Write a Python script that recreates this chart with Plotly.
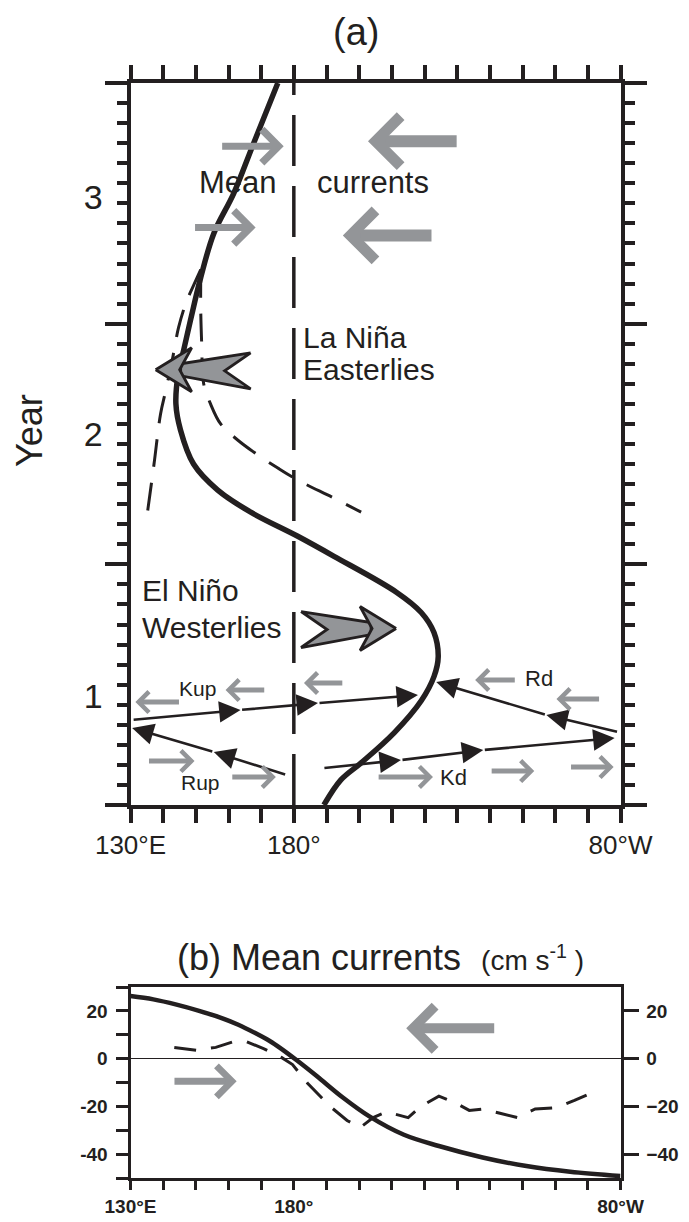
import plotly.graph_objects as go

# page has an 8px body margin: figure is sized so the page is exactly 689x1222
PAGE_OFF = 8
W, H = 689 - PAGE_OFF, 1222 - PAGE_OFF
FONT = "Liberation Sans, Arial, Helvetica, sans-serif"
INK = "#231f20"
GRAY = "#939598"

# ---------------- data: panel (a) ----------------
lon_ticks = [130, 140, 150, 160, 170, 180, 190, 200, 210, 220, 230, 240, 250, 260, 270, 280]
lon_ticklabels = ["130°E", "", "", "", "", "180°", "", "", "", "", "", "", "", "", "", "80°W"]
year_label_pos = [5.43, 18.5, 30.3]          # months
year_labels = ["1", "2", "3"]
month_major = [0, 12, 24, 36]

# thick solid path (lon, month)
solid_lon = [189.2, 194.4, 200.6, 210.7, 219.0, 222.9, 224.2, 222.9, 219.0, 211.5, 192.3, 181.2,
             166.8, 156.7, 149.3, 145.3, 143.9, 144.6, 146.3, 148.4, 151.5, 155.5, 161.6, 167.7, 175.1]
solid_month = [0.0, 1.25, 2.1, 3.6, 5.2, 6.4, 7.4, 8.6, 9.6, 10.6, 12.4, 13.4,
               14.6, 15.7, 17.0, 18.7, 20.0, 21.5, 22.7, 24.2, 26.3, 28.5, 30.5, 33.0, 36.0]
# dashed branches
dash1_lon = [151.5, 149.0, 146.9, 144.7, 142.8, 140.7, 139.2, 137.2, 135.2]
dash1_month = [26.7, 25.8, 25.0, 23.8, 22.2, 20.6, 19.5, 17.0, 14.6]
dash2_lon = [151.5, 151.5, 151.8, 152.4, 154.5, 157.6, 162.8, 167.7, 175.1, 181.2, 192.3, 200.6]
dash2_month = [26.7, 24.7, 23.0, 21.0, 20.0, 19.0, 18.2, 17.6, 16.8, 16.2, 15.3, 14.6]
dateline_lon = [180, 180]
dateline_month = [0, 36]

# Kelvin / Rossby wave paths (arrowheads at every point after the first)
kup_lon = [130.5, 163.7, 187.4, 218.0]
kup_month = [4.24, 4.74, 5.08, 5.48]
rup_lon = [177.8, 155.5, 130.5]
rup_month = [1.50, 2.64, 3.84]
kd_lon = [188.9, 212.8, 238.0, 278.2]
kd_month = [1.84, 2.24, 2.74, 3.34]
rd_lon = [279.4, 257.3, 223.6]
rd_month = [3.64, 4.49, 6.13]

# mean-current arrows at top (tail lon, tip lon, month)
mean_east_tail = [157.6, 149.3]
mean_east_tip = [176.9, 168.3]
mean_east_month = [32.85, 28.8]
mean_west_tail = [230.3, 222.6]
mean_west_tip = [202.7, 195.0]
mean_west_month = [33.1, 28.4]
# small current arrows near the wave paths
small_tail = [145.3, 171.4, 135.2, 160.7, 195.3, 248.1, 273.9, 205.5, 240.1, 264.4]
small_tip = [131.5, 159.1, 149.6, 174.5, 183.1, 235.5, 260.4, 222.6, 253.6, 277.9]
small_month = [5.13, 5.73, 2.19, 1.40, 6.08, 6.23, 5.28, 1.40, 1.69, 1.89]

# wind-stress arrows: tip lon, tip month, direction (+1 east, -1 west)
wind_tip_lon = [137.7, 211.3]
wind_tip_month = [21.7, 8.8]
wind_dir = [-1, 1]

# ---------------- data: panel (b) ----------------
b_solid_lon = [130, 137, 144.1, 151, 157.5, 163, 168.2, 172.5, 176.2, 180.9, 187, 195, 203,
               213.7, 224.4, 237.8, 251.2, 264.6, 280]
b_solid_val = [26.2, 24.8, 22.6, 20.0, 17.2, 14.2, 10.7, 7.5, 4.1, -0.7, -7.3, -16.3, -24.1,
               -31.9, -36.6, -41.4, -45.0, -47.4, -49.2]
b_dash_lon = [143.4, 150.1, 156.1, 161.5, 165.5, 170.9, 176.2, 179.6, 184.2, 191.0, 196.3, 200.3,
              204.3, 208.3, 215.0, 219.0, 224.4, 229.7, 233.7, 237.8, 243.1, 248.5, 253.9, 260.5,
              265.9, 271.9]
b_dash_val = [4.7, 3.5, 4.7, 7.1, 7.1, 4.1, 0.5, -2.5, -10.3, -19.9, -25.9, -28.9,
              -24.7, -22.3, -24.7, -19.9, -15.7, -18.7, -21.7, -21.1, -22.9, -24.7, -21.1, -20.5,
              -17.5, -13.9]
b_yticks = [-50, -40, -30, -20, -10, 0, 10, 20, 30]
b_yticklabels = ["", "-40", "", "-20", "", "0", "", "20", ""]
b_right_ticks = [-40, -20, 0, 20]
b_west_tail, b_west_tip, b_west_val = 241.8, 214.4, 12.7
b_east_tail, b_east_tip, b_east_val = 143.0, 162.5, -9.5

# ---------------- layout geometry (page pixels) ----------------
AX0, AX1 = 130.5, 620.5
AY_TOP, AY_BOT = 83, 805
BY_TOP, BY_BOT = 987, 1178
px_lon = (AX1 - AX0) / 150.0
px_mon = (AY_BOT - AY_TOP) / 36.0

def fx(px):  # page px -> paper x
    return (px - PAGE_OFF) / W

def fy(py):  # page px -> paper y
    return 1 - (py - PAGE_OFF) / H

fig = go.Figure()

def line(x, y, width, dash="solid", spline=True, xa="x", ya="y"):
    fig.add_trace(go.Scatter(x=x, y=y, mode="lines", xaxis=xa, yaxis=ya, hoverinfo="skip",
                             line=dict(color=INK, width=width, dash=dash,
                                       shape="spline" if spline else "linear", smoothing=1.0),
                             showlegend=False))

# panel (a) curves
line(dateline_lon, dateline_month, 3.5, dash="51px,20px", spline=False)
line(dash1_lon, dash1_month, 3, dash="28px,16px")
line(dash2_lon, dash2_month, 3, dash="28px,16px")
line(solid_lon, solid_month, 5.5)

# wind arrows (shaft + barbed head), geometry in px relative to tip
shaft_px = [(-95, -17), (-25, -6), (-25, 6), (-95, 19), (-69, 1), (-95, -17)]
head_px = [(0, 0), (-36, -22), (-24, 0), (-36, 22), (0, 0)]
for tl, tm, d in zip(wind_tip_lon, wind_tip_month, wind_dir):
    for poly in (shaft_px, head_px):
        xs = [tl + d * dx / px_lon for dx, dy in poly]
        ys = [tm - dy / px_mon for dx, dy in poly]
        fig.add_trace(go.Scatter(x=xs, y=ys, mode="lines", fill="toself", fillcolor=GRAY,
                                 line=dict(color=INK, width=2.8), hoverinfo="skip",
                                 showlegend=False))

# panel (b) curves
line(b_dash_lon, b_dash_val, 3, dash="22px,15px", spline=False, xa="x2", ya="y2")
line(b_solid_lon, b_solid_val, 4.5, xa="x2", ya="y2")
# invisible traces so the overlay axes are drawn
fig.add_trace(go.Scatter(x=[130], y=[0], mode="markers", marker=dict(opacity=0), xaxis="x", yaxis="y3",
                         showlegend=False, hoverinfo="skip"))
fig.add_trace(go.Scatter(x=[130], y=[0], mode="markers", marker=dict(opacity=0), xaxis="x2", yaxis="y4",
                         showlegend=False, hoverinfo="skip"))

ann = []

def arrow(x0, y0, x1, y1, color, width, size, head, xr="x", yr="y"):
    ann.append(dict(x=x1, y=y1, ax=x0, ay=y0, xref=xr, yref=yr, axref=xr, ayref=yr, text="",
                    showarrow=True, arrowhead=head, arrowsize=size, arrowwidth=width,
                    arrowcolor=color, standoff=0, startstandoff=0))

for lons, mons in ((kup_lon, kup_month), (rup_lon, rup_month), (kd_lon, kd_month), (rd_lon, rd_month)):
    for i in range(len(lons) - 1):
        arrow(lons[i], mons[i], lons[i + 1], mons[i + 1], INK, 2.6, 1.65, 2)

for t, p, m in zip(mean_east_tail, mean_east_tip, mean_east_month):
    arrow(t, m, p, m, GRAY, 7, 0.92, 4)
for t, p, m in zip(mean_west_tail, mean_west_tip, mean_west_month):
    arrow(t, m, p, m, GRAY, 12, 0.8, 4)
for t, p, m in zip(small_tail, small_tip, small_month):
    arrow(t, m, p, m, GRAY, 5, 0.8, 4)
arrow(b_west_tail, b_west_val, b_west_tip, b_west_val, GRAY, 10, 0.85, 4, "x2", "y2")
arrow(b_east_tail, b_east_val, b_east_tip, b_east_val, GRAY, 7, 0.85, 4, "x2", "y2")

def text(t, x, y, size, xanchor="center", xr="x", yr="y", **kw):
    ann.append(dict(text=t, x=x, y=y, xref=xr, yref=yr, showarrow=False, xanchor=xanchor,
                    yanchor="middle", font=dict(family=FONT, size=size, color=INK), **kw))

text("Mean", 162.8, 31.06, 31)
text("currents", 204.1, 31.06, 31)
text("La Niña", 182.3, 23.3, 30, xanchor="left")
text("Easterlies", 182.3, 21.7, 30, xanchor="left")
text("El Niño", 132.8, 10.7, 30, xanchor="left")
text("Westerlies", 132.8, 8.87, 30, xanchor="left")
text("Kup", 150.5, 5.83, 21)
text("Rup", 151.4, 1.10, 21)
text("Rd", 255.2, 6.33, 22)
text("Kd", 228.9, 1.35, 22)
text("(a)", fx(356), fy(32), 38, xr="paper", yr="paper")
text("Year", fx(30), fy(431), 36, xr="paper", yr="paper", textangle=-90)
text("(b) Mean currents  <span style='font-size:28px'>(cm s<sup>-1</sup> )</span>",
     fx(380), fy(957), 36, xr="paper", yr="paper")

common = dict(showgrid=False, zeroline=False, linecolor=INK, tickcolor=INK, automargin=False)
bfont = dict(family=FONT, size=19, color=INK, weight="bold")
fig.update_layout(
    template="none",
    width=W, height=H, margin=dict(l=0, r=0, t=0, b=0, pad=0, autoexpand=False),
    paper_bgcolor="white", plot_bgcolor="white", showlegend=False,
    annotations=ann,
    xaxis=dict(domain=[fx(AX0), fx(AX1)], range=[130, 280], anchor="y",
               tickmode="array", tickvals=lon_ticks, ticktext=lon_ticklabels,
               ticks="outside", ticklen=14, tickwidth=3.5, showline=True, linewidth=4,
               mirror="ticks", tickfont=dict(family=FONT, size=26, color=INK), **common),
    yaxis=dict(domain=[fy(AY_BOT), fy(AY_TOP)], range=[0, 36], anchor="x",
               tickmode="array", tickvals=year_label_pos, ticktext=year_labels,
               ticks="", showline=True, linewidth=4, mirror=True, ticklabelstandoff=17,
               tickfont=dict(family=FONT, size=34, color=INK), **common),
    yaxis3=dict(overlaying="y", anchor="x", side="left", range=[0, 36],
                tickmode="array", tickvals=month_major, ticks="outside", ticklen=22, tickwidth=3.5,
                showticklabels=False, showline=True, linewidth=4, mirror="ticks",
                minor=dict(tick0=0, dtick=1, ticks="outside", ticklen=10, tickwidth=3.5, tickcolor=INK,
                           showgrid=False),
                **common),
    xaxis2=dict(domain=[fx(AX0), fx(AX1)], range=[130, 280], anchor="y2",
                tickmode="array", tickvals=lon_ticks, ticktext=lon_ticklabels,
                ticks="outside", ticklen=9, tickwidth=2.5, showline=True, linewidth=3, mirror=True,
                ticklabelstandoff=0, tickfont=bfont, **common),
    yaxis2=dict(domain=[fy(BY_BOT), fy(BY_TOP)], range=[-50, 30], anchor="x2",
                tickmode="array", tickvals=b_yticks, ticktext=b_yticklabels,
                ticks="outside", ticklen=12, tickwidth=2.5, showline=True, linewidth=3,
                ticklabelstandoff=4, tickfont=dict(family=FONT, size=19, color=INK, weight="bold"),
                showgrid=False, zeroline=True, zerolinecolor=INK, zerolinewidth=1,
                linecolor=INK, tickcolor=INK, automargin=False),
    yaxis4=dict(overlaying="y2", anchor="x2", side="right", range=[-50, 30],
                tickmode="array", tickvals=b_right_ticks, ticks="outside", ticklen=15, tickwidth=2.5,
                showline=True, linewidth=3, ticklabelstandoff=4,
                tickfont=dict(family=FONT, size=19, color=INK, weight="bold"), **common),
)

fig.write_html("out.html")
